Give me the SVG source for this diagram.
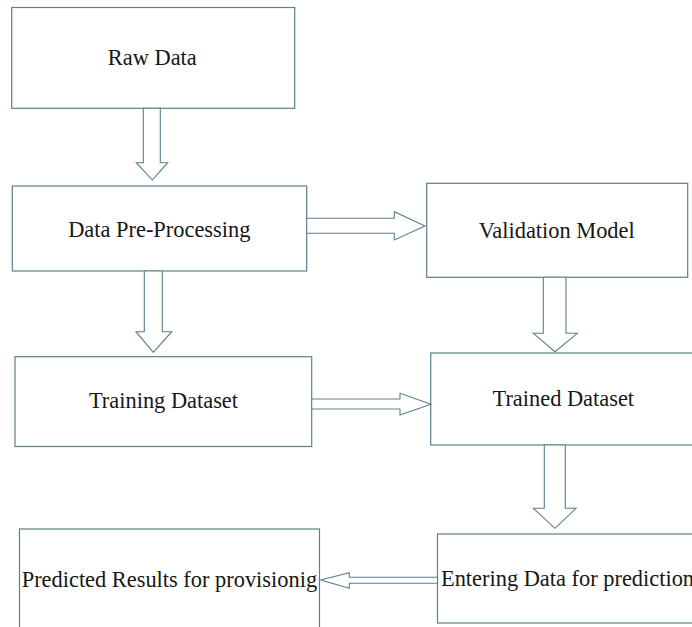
<svg xmlns="http://www.w3.org/2000/svg" width="692" height="627" viewBox="0 0 692 627">
<style>
.box{fill:#ffffff;stroke:#5f7e8e;stroke-width:1.2}
.lbl{font-family:"Liberation Serif","Times New Roman",serif;font-size:22.4px;fill:#161616}
.mid{text-anchor:middle}
.arr{fill:#ffffff;stroke:#5f7e8e;stroke-width:1.1;stroke-linejoin:miter}
</style>
<rect width="692" height="627" fill="#ffffff"/>
<g id="raw-data">
<rect class="box" x="11.7" y="7.5" width="283" height="100.8"/>
<text class="lbl mid" x="152.3" y="64.5">Raw Data</text>
</g>
<g id="data-pre-processing">
<rect class="box" x="12.3" y="186" width="294.4" height="85"/>
<text class="lbl mid" x="159.3" y="236.7">Data Pre-Processing</text>
</g>
<g id="validation-model">
<rect class="box" x="426.7" y="183.3" width="261" height="94"/>
<text class="lbl mid" x="556.7" y="238.3">Validation Model</text>
</g>
<g id="training-dataset">
<rect class="box" x="15" y="356.7" width="296.7" height="89.8"/>
<text class="lbl mid" x="163.5" y="407.7">Training Dataset</text>
</g>
<g id="trained-dataset">
<rect class="box" x="430.7" y="353" width="280" height="92"/>
<text class="lbl mid" x="563.3" y="406">Trained Dataset</text>
</g>
<g id="predicted-results">
<rect class="box" x="19.5" y="529" width="300" height="110"/>
<text class="lbl" x="21.7" y="586.7">Predicted Results for provisionig</text>
</g>
<g id="entering-data">
<rect class="box" x="437.5" y="534" width="280" height="89"/>
<text class="lbl" x="441" y="585.7">Entering Data for prediction</text>
</g>
<g id="connectors">
<polygon class="arr" points="143.3,108.3 160.3,108.3 160.3,162.7 167.7,162.7 152.3,180 136.3,162.7 143.3,162.7"/>
<polygon class="arr" points="306.7,218.3 394.3,218.3 394.3,211.7 425,226 394.3,240 394.3,233.3 306.7,233.3"/>
<polygon class="arr" points="144.3,271 162.3,271 162.3,331.7 171.7,331.7 153.3,352.3 136,331.7 144.3,331.7"/>
<polygon class="arr" points="543.3,277.3 566,277.3 566,333.3 577.3,333.3 555,351.7 533.3,333.3 543.3,333.3"/>
<polygon class="arr" points="311.7,399 400,399 400,393.3 431,404.3 400,415 400,409 311.7,409"/>
<polygon class="arr" points="544.3,445 565.3,445 565.3,508.3 576,508.3 555,528.3 533.3,508.3 544.3,508.3"/>
<polygon class="arr" points="437.5,577.3 349.3,577.3 349.3,572.7 320.7,580 349.3,588.3 349.3,583.3 437.5,583.3"/>
</g>
</svg>
